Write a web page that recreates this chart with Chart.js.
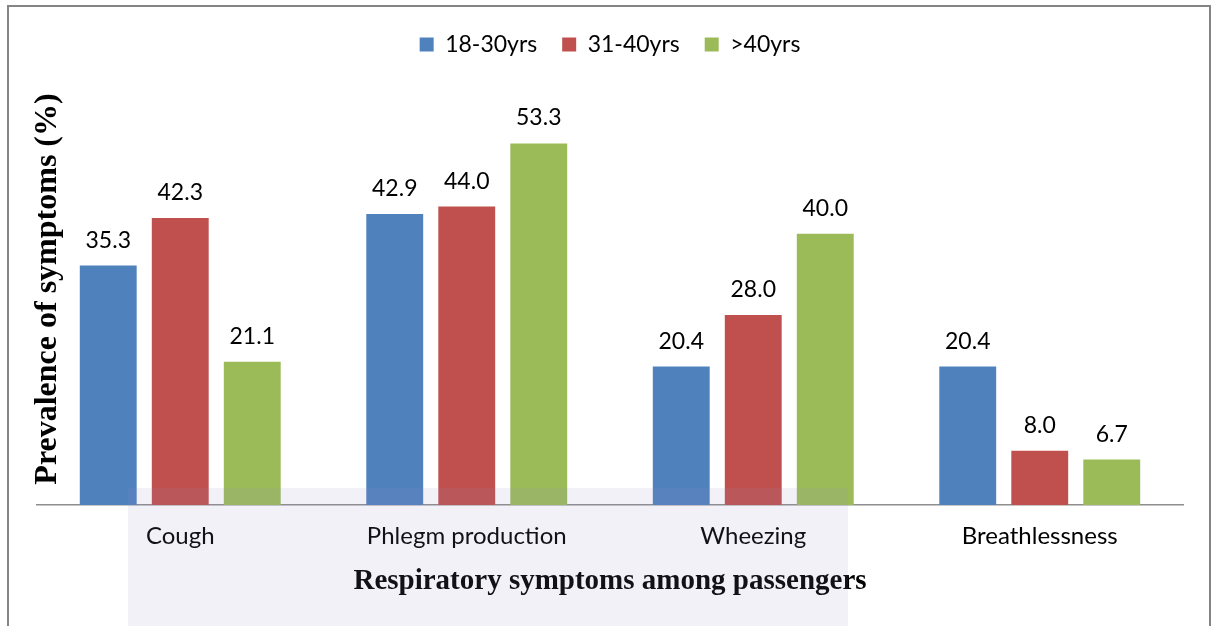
<!DOCTYPE html>
<html>
<head>
<meta charset="utf-8">
<script src="https://cdn.jsdelivr.net/npm/chart.js@4"></script>
<style>
  html, body { margin: 0; padding: 0; background: #fff; }
  canvas { display: block; }
</style>
</head>
<body>
<canvas id="chart" width="1212" height="626" style="width:1212px;height:626px"></canvas>
<script>
const categories = ['Cough', 'Phlegm production', 'Wheezing', 'Breathlessness'];
const ageGroups = ['18-30yrs', '31-40yrs', '>40yrs'];
const age18to30 = [35.3, 42.9, 20.4, 20.4];
const age31to40 = [42.3, 44.0, 28.0, 8.0];
const ageOver40 = [21.1, 53.3, 40.0, 6.7];

const blue = '#4F81BD';
const red = '#C0504D';
const green = '#9BBB59';
const labelFont = 'Lato';
const titleFont = 'Liberation Serif';

// frame, y title, value labels and the faint watermark band
const decorations = {
    id: 'decorations',
    beforeLayout(chart) {
        // leave a gap between the legend and the plot
        if (chart.legend && !chart.legend._padded) {
            const fit = chart.legend.fit;
            chart.legend.fit = function () {
                fit.call(this);
                this.height += 32;
            };
            chart.legend._padded = true;
        }
    },
    afterDatasetsDraw(chart) {
        const ctx = chart.ctx;
        ctx.save();
        ctx.font = '23px ' + labelFont;
        ctx.fillStyle = '#000';
        ctx.textAlign = 'center';
        ctx.textBaseline = 'alphabetic';
        chart.data.datasets.forEach((ds, i) => {
            chart.getDatasetMeta(i).data.forEach((bar, j) => {
                ctx.fillText(ds.data[j].toFixed(1), bar.x, bar.y - 18);
            });
        });
        ctx.restore();
    },
    afterDraw(chart) {
        const ctx = chart.ctx;
        ctx.save();
        // watermark band
        ctx.fillStyle = 'rgba(150,140,200,0.12)';
        ctx.fillRect(128, 488, 720, 140);
        // frame
        ctx.strokeStyle = '#858585';
        ctx.lineWidth = 2;
        ctx.beginPath();
        ctx.moveTo(8, 626);
        ctx.lineTo(8, 6);
        ctx.lineTo(1210, 6);
        ctx.lineTo(1210, 626);
        ctx.stroke();
        // y axis title
        ctx.translate(48, 289);
        ctx.rotate(-Math.PI / 2);
        ctx.font = 'bold 32px ' + titleFont;
        ctx.fillStyle = '#000';
        ctx.textAlign = 'center';
        ctx.textBaseline = 'middle';
        ctx.fillText('Prevalence of symptoms (%)', 0, 0);
        ctx.restore();
    }
};

new Chart(document.getElementById('chart'), {
    type: 'bar',
    data: {
        labels: categories,
        datasets: [
            { label: ageGroups[0], data: age18to30, backgroundColor: blue },
            { label: ageGroups[1], data: age31to40, backgroundColor: red },
            { label: ageGroups[2], data: ageOver40, backgroundColor: green }
        ]
    },
    options: {
        responsive: false,
        animation: false,
        datasets: {
            bar: {
                categoryPercentage: 0.754,
                barPercentage: 0.79
            }
        },
        layout: {
            padding: { left: 37, right: 29, top: 8, bottom: 0 }
        },
        plugins: {
            legend: {
                position: 'top',
                labels: {
                    boxWidth: 14,
                    boxHeight: 14,
                    padding: 25,
                    color: '#000',
                    font: { family: labelFont, size: 23 }
                }
            },
            tooltip: { enabled: false }
        },
        scales: {
            x: {
                grid: { display: false, drawTicks: false },
                border: { display: true, color: '#8E8E8E', width: 1.5 },
                ticks: {
                    padding: 17,
                    color: '#000',
                    font: { family: labelFont, size: 24 }
                },
                title: {
                    display: true,
                    text: 'Respiratory symptoms among passengers',
                    color: '#000',
                    font: { family: titleFont, size: 29, weight: 'bold' },
                    padding: { top: 4, bottom: 27 }
                },
                afterFit(scale) {
                    scale.height = 121;
                }
            },
            y: {
                display: false,
                min: 0,
                max: 60
            }
        }
    },
    plugins: [decorations]
});
</script>
</body>
</html>
